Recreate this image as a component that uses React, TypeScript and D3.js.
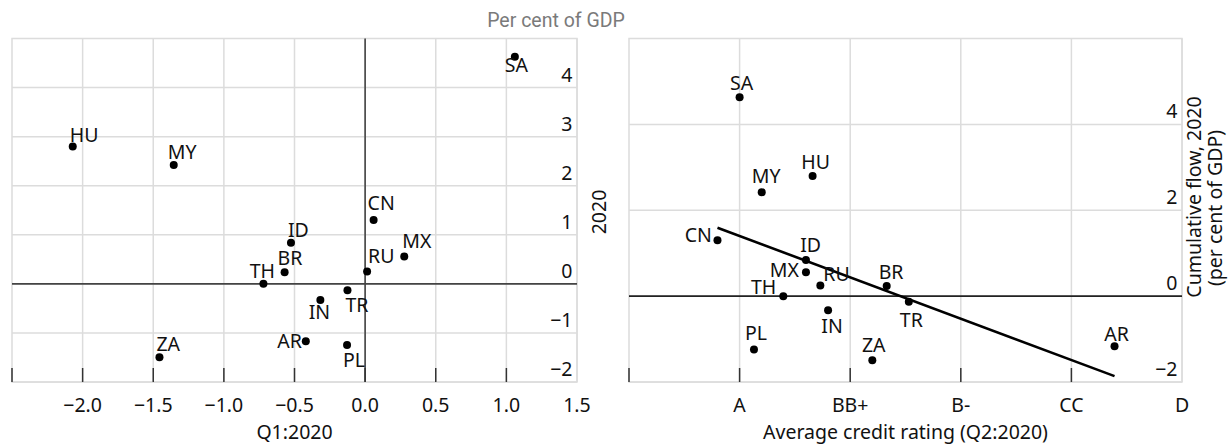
import React from "react";
import * as d3 from "d3";

// ---------- DATA ----------
const countries = ["SA", "HU", "MY", "CN", "ID", "MX", "RU", "BR", "TH", "TR", "IN", "PL", "ZA", "AR"];
// Left panel x: Q1:2020 flow (per cent of GDP)
const q1Flow = [1.06, -2.07, -1.355, 0.06, -0.525, 0.277, 0.014, -0.57, -0.72, -0.125, -0.317, -0.128, -1.456, -0.42];
// Cumulative flow 2020 (per cent of GDP) – y in both panels
const flow2020 = [4.63, 2.8, 2.42, 1.3, 0.84, 0.555, 0.25, 0.235, 0.0, -0.13, -0.33, -1.245, -1.495, -1.17];
// Right panel x: average credit rating (numeric position on rating scale)
const ratingScore = [1.0, 1.66, 1.2, 0.8, 1.6, 1.6, 1.73, 2.33, 1.395, 2.53, 1.8, 1.13, 2.2, 4.39];

const leftXTicks = [-2.0, -1.5, -1.0, -0.5, 0.0, 0.5, 1.0, 1.5];
const leftYTicks = [-2, -1, 0, 1, 2, 3, 4];
const ratingTickLabels = ["A", "BB+", "B-", "CC", "D"];
const ratingTickPositions = [1, 2, 3, 4, 5];
const rightYTicks = [-2, 0, 2, 4];

// ---------- LABEL PLACEMENT (style) ----------
type LP = [string, number, number];
const leftLabelPos: Record<string, LP> = {
  SA: ["middle", 1.5, 15], HU: ["start", -3, -4.5], MY: ["start", -6, -6], CN: ["start", -6, -10],
  ID: ["start", -3, -6], MX: ["start", -2, -9], RU: ["start", 1, -9], BR: ["start", -7, -7],
  TH: ["middle", -1, -6], TR: ["start", -2, 22], IN: ["middle", -1, 19], PL: ["start", -4, 22],
  ZA: ["start", -3, -6.6], AR: ["end", -4, 7],
};
const rightLabelPos: Record<string, LP> = {
  SA: ["middle", 2, -7], HU: ["middle", 3, -7], MY: ["start", -10, -9], CN: ["end", -5.6, 1.4],
  ID: ["start", -5.7, -7.7], MX: ["end", -7, 4.4], RU: ["start", 3, -4], BR: ["start", -8, -7],
  TH: ["end", -7, -1.7], TR: ["middle", 2.5, 25], IN: ["middle", 4, 23], PL: ["middle", 2, -9.7],
  ZA: ["middle", 1.4, -8.6], AR: ["middle", 2, -5.6],
};

const FONT = "'Noto Sans', 'Open Sans', sans-serif";
const FS = 19.5;
const GRID = "#dcdcdc";
const TICK = "#333";

const fmtMinus = (s: string) => s.replace("-", "\u2212");

export default function App() {
  const W = 1229, H = 445;
  const bottom = 382, top = 38.5;

  // Left panel scales
  const lx = d3.scaleLinear().domain([-2.5, 1.5]).range([12, 577]);
  const ly = d3.scaleLinear().domain([-2, 5]).range([bottom, top]);
  // Right panel scales
  const rx = d3.scaleLinear().domain([0, 5]).range([629, 1182]);
  const ry = d3.scaleLinear().domain([-2, 6]).range([bottom, top]);

  // OLS regression for right panel
  const xs = ratingScore, ys = flow2020;
  const mx = d3.mean(xs)!, my = d3.mean(ys)!;
  let sxy = 0, sxx = 0;
  xs.forEach((x, i) => { sxy += (x - mx) * (ys[i] - my); sxx += (x - mx) ** 2; });
  const slope = sxy / sxx, intercept = my - slope * mx;
  const [xmin, xmax] = d3.extent(xs) as [number, number];
  const regLine = d3.line<number>().x(d => rx(d)).y(d => ry(intercept + slope * d))([xmin, xmax]);

  const leftGridX = d3.range(-2.0, 1.5001, 0.5);
  const rightGridX = d3.range(1, 5.001, 1);

  return (
    <svg width={W} height={H} style={{ position: "absolute", left: 0, top: 0, background: "#fff" }} fontFamily={FONT}>
      {/* Header */}
      <text x={556} y={27} textAnchor="middle" fontFamily="Roboto, sans-serif" fontSize={19.5} fill="#7a7a7a">Per cent of GDP</text>

      {/* ---------- LEFT PANEL ---------- */}
      <g>
        {leftGridX.map((v, i) => (
          <line key={"lgx" + i} x1={lx(v)} x2={lx(v)} y1={top} y2={bottom} stroke={GRID} strokeWidth={1.5} />
        ))}
        {leftYTicks.map((v, i) => (
          <line key={"lgy" + i} x1={lx(-2.5)} x2={lx(1.5)} y1={ly(v)} y2={ly(v)} stroke={GRID} strokeWidth={1.5} />
        ))}
        <rect x={lx(-2.5)} y={top} width={lx(1.5) - lx(-2.5)} height={bottom - top} fill="none" stroke={GRID} strokeWidth={1.5} />
        {/* zero lines */}
        <line x1={lx(-2.5)} x2={lx(1.5)} y1={ly(0)} y2={ly(0)} stroke="#444" strokeWidth={1.6} />
        <line x1={lx(0)} x2={lx(0)} y1={top} y2={bottom} stroke="#444" strokeWidth={1.6} />
        {/* ticks */}
        {[-2.5, ...leftXTicks.slice(0, -1)].map((v, i) => (
          <line key={"ltk" + i} x1={lx(v)} x2={lx(v)} y1={bottom} y2={bottom - 14} stroke={TICK} strokeWidth={1.5} />
        ))}
        {leftXTicks.map((v, i) => (
          <text key={"ltl" + i} x={lx(v)} y={412} textAnchor="middle" fontSize={FS} fill="#111">{fmtMinus(v.toFixed(1))}</text>
        ))}
        {leftYTicks.map((v, i) => (
          <text key={"lyl" + i} x={lx(1.5) - 4.5} y={ly(v) - 6} textAnchor="end" fontSize={FS} fill="#111">{fmtMinus(String(v))}</text>
        ))}
        <text x={(lx(-2.5) + lx(1.5)) / 2} y={439} textAnchor="middle" fontSize={FS} fill="#111">Q1:2020</text>
        <text transform={`translate(606,212) rotate(-90)`} textAnchor="middle" fontSize={FS} fill="#111">2020</text>

        {countries.map((c, i) => {
          const [anchor, dx, dy] = leftLabelPos[c];
          const cx = lx(q1Flow[i]), cy = ly(flow2020[i]);
          return (
            <g key={"lp" + c}>
              <circle cx={cx} cy={cy} r={4} fill="#000" />
              <text x={cx + dx} y={cy + dy} textAnchor={anchor as any} fontSize={FS} fill="#111">{c}</text>
            </g>
          );
        })}
      </g>

      {/* ---------- RIGHT PANEL ---------- */}
      <g>
        {rightGridX.map((v, i) => (
          <line key={"rgx" + i} x1={rx(v)} x2={rx(v)} y1={top} y2={bottom} stroke={GRID} strokeWidth={1.5} />
        ))}
        {rightYTicks.map((v, i) => (
          <line key={"rgy" + i} x1={rx(0)} x2={rx(5)} y1={ry(v)} y2={ry(v)} stroke={GRID} strokeWidth={1.5} />
        ))}
        <rect x={rx(0)} y={top} width={rx(5) - rx(0)} height={bottom - top} fill="none" stroke={GRID} strokeWidth={1.5} />
        <line x1={rx(0)} x2={rx(5)} y1={ry(0)} y2={ry(0)} stroke="#222" strokeWidth={1.6} />
        {[0, ...ratingTickPositions.slice(0, -1)].map((v, i) => (
          <line key={"rtk" + i} x1={rx(v)} x2={rx(v)} y1={bottom} y2={bottom - 14} stroke={TICK} strokeWidth={1.5} />
        ))}
        {ratingTickLabels.map((l, i) => (
          <text key={"rtl" + i} x={rx(ratingTickPositions[i])} y={412} textAnchor="middle" fontSize={FS} fill="#111">{l}</text>
        ))}
        {rightYTicks.map((v, i) => (
          <text key={"ryl" + i} x={rx(5) - 4.5} y={ry(v) - 6} textAnchor="end" fontSize={FS} fill="#111">{fmtMinus(String(v))}</text>
        ))}
        <text x={(rx(0) + rx(5)) / 2} y={439} textAnchor="middle" fontSize={FS} fill="#111">Average credit rating (Q2:2020)</text>
        <text transform={`translate(1201,197) rotate(-90)`} textAnchor="middle" fontSize={FS} fill="#111">Cumulative flow, 2020</text>
        <text transform={`translate(1222,208) rotate(-90)`} textAnchor="middle" fontSize={FS} fill="#111">(per cent of GDP)</text>

        <path d={regLine!} fill="none" stroke="#000" strokeWidth={2.6} />

        {countries.map((c, i) => {
          const [anchor, dx, dy] = rightLabelPos[c];
          const cx = rx(ratingScore[i]), cy = ry(flow2020[i]);
          return (
            <g key={"rp" + c}>
              <circle cx={cx} cy={cy} r={4} fill="#000" />
              <text x={cx + dx} y={cy + dy} textAnchor={anchor as any} fontSize={FS} fill="#111">{c}</text>
            </g>
          );
        })}
      </g>
    </svg>
  );
}
